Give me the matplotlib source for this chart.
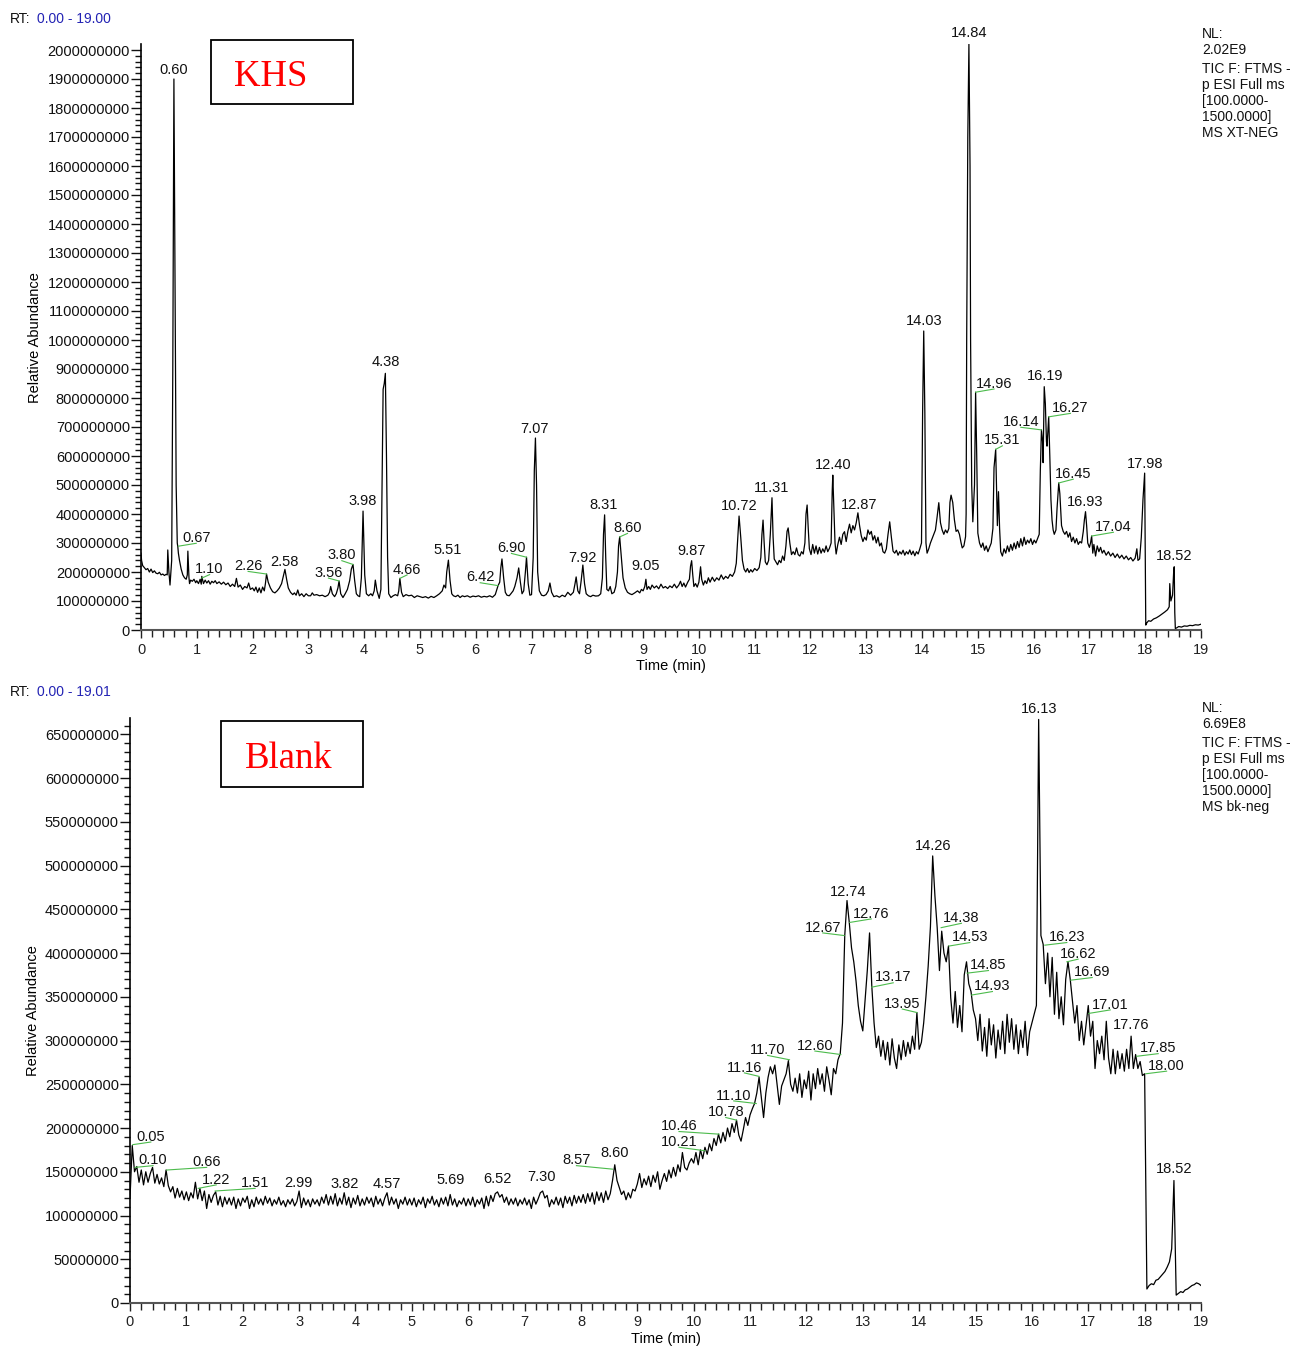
import numpy as np
import matplotlib
matplotlib.use("Agg")
import matplotlib.pyplot as plt
from matplotlib.patches import Rectangle
from matplotlib.ticker import FixedLocator, FuncFormatter

W, H = 1293, 1347
plt.rcParams['font.family'] = ['Liberation Sans', 'DejaVu Sans']

# ---------------- KHS trace: (time [min], intensity [x1e6]) ----------------
KHS_0_1 = [(0.00,265),(0.01,240),(0.03,222),(0.06,215),(0.09,208),(0.12,212),(0.15,200),(0.18,210),
           (0.21,198),(0.24,204),(0.27,196),(0.30,194),(0.33,199),(0.36,190),(0.39,193),(0.42,188),
           (0.45,192),(0.47,190),(0.48,276),(0.50,200),(0.52,155),(0.55,240),(0.57,900),(0.59,1900),
           (0.61,1200),(0.63,500),(0.65,300),(0.66,287),(0.67,265),(0.69,240),(0.72,210),(0.75,190),
           (0.78,180),(0.81,175),(0.83,190),(0.84,272),(0.86,180),(0.87,160),(0.89,172),(0.92,168),
           (0.95,175),(0.98,163)]
KHS_1_3 = [(1.00,170),(1.03,160),(1.06,175),(1.08,158),(1.09,185),(1.12,160),(1.15,172),(1.18,162),
           (1.21,170),(1.24,158),(1.27,168),(1.30,163),(1.33,170),(1.36,160),(1.40,166),(1.44,158),
           (1.48,165),(1.52,156),(1.56,162),(1.60,150),(1.64,158),(1.68,150),(1.71,178),(1.74,148),
           (1.78,155),(1.82,140),(1.86,150),(1.90,145),(1.93,162),(1.96,140),(2.00,145),(2.03,135),
           (2.06,148),(2.09,130),(2.12,145),(2.15,128),(2.18,148),(2.21,135),(2.23,160),(2.25,193),
           (2.28,165),(2.32,145),(2.36,132),(2.40,128),(2.44,135),(2.48,145),(2.52,160),(2.55,185),
           (2.58,209),(2.61,175),(2.64,145),(2.68,130),(2.72,122),(2.75,128),(2.78,120),(2.81,138),
           (2.84,118),(2.88,125),(2.92,115),(2.96,125),(3.00,118)]
KHS_3_5 = [(3.04,118),(3.07,128),(3.10,120),(3.15,122),(3.20,118),(3.25,120),(3.30,115),(3.35,120),
           (3.38,130),(3.40,150),(3.43,125),(3.47,115),(3.50,125),(3.53,145),(3.55,169),(3.58,125),
           (3.62,112),(3.66,125),(3.70,140),(3.74,170),(3.77,210),(3.80,226),(3.83,170),(3.86,125),
           (3.89,118),(3.92,115),(3.95,180),(3.98,410),(4.01,190),(4.04,125),(4.08,118),(4.12,125),
           (4.15,118),(4.18,135),(4.20,172),(4.23,135),(4.27,109),(4.30,140),(4.32,500),(4.34,830),
           (4.36,850),(4.38,885),(4.40,600),(4.42,250),(4.44,125),(4.48,112),(4.52,118),(4.56,122),
           (4.60,118),(4.62,135),(4.64,178),(4.67,130),(4.70,115),(4.75,122),(4.80,118),(4.85,120),
           (4.90,112),(4.95,118),(5.00,115),(5.05,112),(5.10,115),(5.15,110),(5.20,116),(5.25,112),
           (5.30,118),(5.35,125),(5.40,135),(5.43,155),(5.46,145),(5.48,200),(5.51,241),(5.54,170),
           (5.57,125),(5.60,118)]
KHS_5_9 = [(5.64,115),(5.68,120),(5.72,112),(5.76,118),(5.80,115),(5.85,118),(5.90,113),(5.95,117),
           (6.00,115),(6.05,118),(6.10,113),(6.15,116),(6.20,114),(6.25,118),(6.30,113),(6.35,122),
           (6.38,140),(6.40,153),(6.43,165),(6.45,215),(6.47,245),(6.50,180),(6.53,130),(6.56,120),
           (6.60,118),(6.63,125),(6.67,135),(6.70,150),(6.74,180),(6.77,214),(6.80,165),(6.83,125),
           (6.86,135),(6.89,200),(6.91,251),(6.94,160),(6.97,120),(7.00,122),(7.03,250),(7.05,550),
           (7.07,662),(7.09,500),(7.11,200),(7.14,135),(7.18,120),(7.22,118),(7.26,122),(7.30,135),
           (7.33,162),(7.36,130),(7.40,115),(7.45,118),(7.50,113),(7.55,120),(7.60,115),(7.65,130),
           (7.70,120),(7.75,130),(7.78,160),(7.80,183),(7.83,135),(7.86,125),(7.89,170),(7.92,224),
           (7.95,160),(7.98,125),(8.02,118),(8.06,115),(8.10,120),(8.15,117),(8.20,118),(8.24,125),
           (8.27,180),(8.29,330),(8.31,397),(8.33,250),(8.35,140),(8.38,135),(8.41,150),(8.44,125),
           (8.48,130),(8.51,150),(8.54,200),(8.56,290),(8.58,321),(8.61,250),(8.64,180),(8.68,145),
           (8.72,130),(8.76,125),(8.80,122),(8.85,128),(8.90,135),(8.94,128),(8.97,140),(9.00,135)]
KHS_9_11 = [(9.03,150),(9.05,175),(9.07,140),(9.10,150),(9.13,140),(9.16,155),(9.20,145),(9.24,152),
            (9.28,142),(9.32,158),(9.36,145),(9.40,150),(9.44,143),(9.48,152),(9.52,146),(9.56,158),
            (9.60,145),(9.64,155),(9.67,168),(9.70,150),(9.73,162),(9.76,148),(9.80,165),(9.83,175),
            (9.85,220),(9.87,239),(9.89,190),(9.91,150),(9.94,160),(9.97,148),(10.00,165),(10.03,218),
            (10.05,175),(10.08,155),(10.11,170),(10.14,160),(10.17,180),(10.20,165),(10.24,182),
            (10.28,168),(10.32,180),(10.36,172),(10.40,190),(10.44,175),(10.48,185),(10.52,178),
            (10.56,192),(10.60,185),(10.64,200),(10.67,230),(10.70,330),(10.72,393),(10.75,320),
            (10.78,240),(10.81,210),(10.84,200),(10.87,212),(10.90,198),(10.93,208),(10.96,200),
            (11.00,212)]
KHS_11_13 = [(11.04,205),(11.08,215),(11.11,250),(11.13,330),(11.15,379),(11.17,300),(11.19,235),
             (11.22,225),(11.25,240),(11.28,330),(11.31,456),(11.33,320),(11.35,245),(11.38,235),
             (11.41,225),(11.44,240),(11.47,232),(11.50,255),(11.53,240),(11.56,290),(11.58,340),
             (11.60,352),(11.63,300),(11.66,260),(11.69,270),(11.72,260),(11.75,283),(11.78,260),
             (11.81,255),(11.84,270),(11.87,262),(11.90,300),(11.92,400),(11.94,431),(11.96,350),
             (11.98,280),(12.01,260),(12.04,295),(12.07,265),(12.10,290),(12.13,262),(12.16,285),
             (12.19,265),(12.22,280),(12.25,268),(12.28,290),(12.31,270),(12.34,282),(12.37,300),
             (12.39,480),(12.40,534),(12.42,420),(12.44,300),(12.46,262),(12.49,295),(12.52,320),
             (12.55,295),(12.58,330),(12.61,339),(12.64,305),(12.67,340),(12.70,365),(12.73,335),
             (12.76,360),(12.79,345),(12.82,370),(12.85,404),(12.88,360),(12.91,325),(12.94,305),
             (12.97,320),(13.00,310)]
KHS_13_15 = [(13.03,345),(13.06,330),(13.09,340),(13.12,310),(13.15,325),(13.18,300),(13.21,320),
             (13.24,290),(13.27,300),(13.30,270),(13.33,265),(13.36,280),(13.39,330),(13.42,373),
             (13.45,320),(13.48,272),(13.51,265),(13.54,275),(13.57,258),(13.60,270),(13.63,262),
             (13.66,275),(13.69,258),(13.72,270),(13.75,262),(13.78,276),(13.81,260),(13.84,272),
             (13.87,256),(13.90,270),(13.93,262),(13.96,280),(13.99,300),(14.01,750),(14.03,1031),
             (14.05,750),(14.07,300),(14.09,265),(14.12,280),(14.15,300),(14.18,315),(14.21,330),
             (14.24,345),(14.27,390),(14.30,439),(14.33,370),(14.36,345),(14.39,330),(14.42,345),
             (14.45,335),(14.48,350),(14.50,440),(14.52,465),(14.55,440),(14.58,380),(14.61,340),
             (14.64,345),(14.67,330),(14.70,300),(14.72,283),(14.75,290),(14.78,322),(14.79,400),
             (14.80,1000),(14.82,1700),(14.84,2020),(14.86,1600),(14.87,1000),(14.89,500),(14.91,373)]
KHS_15_18 = [(14.94,500),(14.96,820),(14.98,600),(15.00,334),(15.03,300),(15.06,285),(15.09,300),
             (15.12,275),(15.15,290),(15.18,270),(15.21,285),(15.24,300),(15.27,350),(15.29,560),
             (15.32,623),(15.34,450),(15.35,360),(15.37,477),(15.39,350),(15.41,270),(15.44,255),
             (15.47,280),(15.50,265),(15.53,290),(15.56,270),(15.59,295),(15.62,275),(15.65,300),
             (15.68,280),(15.71,305),(15.74,285),(15.77,315),(15.80,290),(15.83,320),(15.86,295),
             (15.89,310),(15.92,300),(15.95,315),(15.98,295),(16.01,310),(16.04,300),(16.07,315),
             (16.10,330),(16.12,550),(16.14,690),(16.16,650),(16.17,577),(16.19,839),(16.21,780),
             (16.23,650),(16.24,634),(16.27,735),(16.29,600),(16.31,450),(16.33,379),(16.35,345),
             (16.37,330),(16.40,345),(16.42,420),(16.45,507),(16.47,470),(16.50,360),(16.53,340),
             (16.56,330),(16.59,340),(16.62,320),(16.65,335),(16.68,305),(16.71,320),(16.74,300),
             (16.77,315),(16.80,295),(16.83,305),(16.86,300),(16.89,340),(16.91,380),(16.93,408),
             (16.95,360),(16.97,300),(17.00,285),(17.02,300),(17.04,324),(17.06,265),(17.08,295),
             (17.11,255),(17.14,290),(17.17,270),(17.20,285),(17.23,265),(17.26,275),(17.30,258),
             (17.34,270),(17.38,255),(17.42,265),(17.46,250),(17.50,262),(17.54,248),(17.58,258),
             (17.62,245),(17.66,255),(17.70,242),(17.74,250),(17.78,238),(17.82,248),(17.85,280),
             (17.87,240),(17.90,245),(17.93,320),(17.96,450),(17.99,541),(18.00,300),(18.01,17)]
KHS_18_19 = [(18.03,25),(18.06,32),(18.10,30),(18.15,38),(18.20,42),(18.25,48),(18.30,55),(18.35,62),
             (18.40,70),(18.43,80),(18.44,160),(18.46,100),(18.49,120),(18.51,200),(18.52,218),
             (18.53,60),(18.54,5),(18.57,8),(18.60,12),(18.65,10),(18.70,14),(18.75,13),(18.80,16),
             (18.85,15),(18.90,18),(18.95,17),(19.00,20)]

# ---------------- Blank trace: scans every 0.04 min, intensity [x1e6] ----------------
BLANK_STEP = 0.04
BLANK_MIN_0_4 = [
    120,180,150,156,138,152,135,150,138,148,155,137,147,136,143,133,152,134,127,133,120,131,121,128,118,
    127,117,126,120,138,119,131,117,128,108,124,115,123,127,112,122,110,121,113,120,112,121,108,119,111,
    120,115,122,108,118,110,121,113,119,112,122,114,120,111,118,113,121,112,117,110,118,113,119,111,116,
    128,109,120,112,118,110,119,113,118,111,121,114,124,112,122,113,125,111,120,113,126,112,121,109,120,
    113,123,111,119,112,121,114,120,110,122,113,119,111,120,126,112,121,113,119,108,118,113,121,112,119]
BLANK_MIN_5_9 = [
    112,120,110,118,113,121,109,119,114,122,112,118,110,120,113,121,111,124,112,119,110,117,113,120,111,
    119,112,121,110,118,113,120,108,122,111,123,116,125,127,121,124,115,121,112,119,113,120,111,118,113,
    120,112,118,108,121,113,119,126,128,120,123,110,118,113,121,112,120,109,122,114,121,111,123,114,122,
    115,124,114,125,116,126,113,127,117,126,115,128,118,125,140,158,140,132,124,128,118,126,120,130,128,
    136,148,132,142,135,145,133,146,138,150,130,140,148,139,152,143,155,145,158,150,172,155,152,160,165]
BLANK_MIN_10_14 = [
    160,172,158,175,165,178,170,182,174,188,180,193,183,195,185,200,190,205,195,209,192,185,198,212,203,
    215,222,228,240,258,235,212,240,258,270,262,272,250,227,248,255,262,277,250,242,257,240,262,235,255,
    245,265,232,262,245,268,250,262,242,270,255,238,268,262,278,285,320,420,460,435,406,390,368,340,322,
    311,345,380,423,362,320,292,305,282,300,278,298,272,302,280,268,295,278,300,282,298,285,305,290,332,
    290,298,320,350,385,430,511,465,429,380,425,400,390,408,349,320,356,315,340,310,375,390,365,356,335]
BLANK_MIN_15_19 = [
    325,300,330,288,315,282,325,295,318,280,312,290,322,285,330,298,325,290,318,285,312,292,322,283,310,
    320,330,340,667,420,410,365,400,350,395,330,378,325,350,318,370,390,370,345,320,340,300,322,295,318,
    340,305,322,268,300,285,305,278,322,280,262,290,262,288,268,285,265,290,268,305,268,284,268,276,260,
    262,16,20,22,21,26,27,30,33,36,41,47,62,140,9,11,13,12,15,16,18,20,21,23,22,
    20]

# ---------------- Peak annotations: (text, peak time, peak intensity x1e6) ----------------
KHS_PEAKS = [("0.60",0.59,1900),("0.67",0.67,289),("1.10",1.09,179),("2.26",2.25,193),("2.58",2.58,209),
             ("3.56",3.55,169),("3.80",3.80,226),("3.98",3.98,410),("4.38",4.38,885),("4.66",4.64,178),
             ("5.51",5.51,241),("6.42",6.40,153),("6.90",6.91,251),("7.07",7.07,662),("7.92",7.92,224),
             ("8.31",8.31,397),("8.60",8.58,321),("9.05",9.05,175),("9.87",9.87,239),("10.72",10.72,393),
             ("11.31",11.31,456),("12.40",12.40,534),("12.87",12.85,404),("14.03",14.03,1031),
             ("14.84",14.84,2020),("14.96",14.96,820),("15.31",15.32,623),("16.14",16.14,690),
             ("16.19",16.19,839),("16.27",16.27,735),("16.45",16.45,507),("16.93",16.93,408),
             ("17.04",17.04,324),("17.98",17.99,541),("18.52",18.52,218)]
BLANK_PEAKS = [("0.05",0.05,181),("0.10",0.09,155),("0.66",0.65,152),("1.22",1.21,131),("1.51",1.51,128),
               ("2.99",2.99,128),("3.82",3.81,126),("4.57",4.56,126),("5.69",5.69,124),("6.52",6.52,127),
               ("7.30",7.30,128),("8.57",8.56,153),("8.60",8.60,158),("10.21",10.20,174),("10.46",10.45,193),
               ("10.78",10.76,209),("11.10",11.11,228),("11.16",11.16,259),("11.70",11.70,278),
               ("12.60",12.61,284),("12.67",12.67,420),("12.74",12.74,460),("12.76",12.77,435),
               ("13.17",13.16,361),("13.95",13.96,332),("14.26",14.26,511),("14.38",14.39,429),
               ("14.53",14.53,408),("14.85",14.85,377),("14.93",14.93,352),("16.13",16.13,667),
               ("16.23",16.23,409),("16.62",16.62,390),("16.69",16.69,369),("17.01",17.01,331),
               ("17.76",17.76,305),("17.85",17.86,282),("18.00",18.02,262),("18.52",18.52,140)]

# label placement (layout): (label centre time, label baseline intensity x1e6, leader line?)
KHS_LABEL_POS = [(0.59,1914,False),(0.99,299,True),(1.23,191,True),(1.92,202,True),(2.57,216,False),
                 (3.36,179,True),(3.60,239,True),(3.97,425,False),(4.39,906,False),(4.77,190,True),
                 (5.50,259,False),(6.08,163,True),(6.64,264,True),(7.06,675,False),(7.91,230,False),
                 (8.30,411,False),(8.72,333,True),(9.04,201,False),(9.87,253,False),(10.72,408,False),
                 (11.30,471,False),(12.40,549,False),(12.87,414,False),(14.03,1046,False),
                 (14.84,2040,False),(15.29,831,True),(15.44,635,True),(15.77,699,True),
                 (16.20,856,False),(16.66,747,True),(16.71,520,True),(16.93,423,False),
                 (17.43,337,True),(17.99,554,False),(18.51,235,False)]
BLANK_LABEL_POS = [(0.37,184,True),(0.41,157,True),(1.36,155,True),(1.53,135,True),(2.22,131,True),
                   (2.99,131,False),(3.81,130,False),(4.56,130,False),(5.69,134,False),(6.51,136,False),
                   (7.30,138,False),(7.92,157,True),(8.59,165,False),(9.74,178,True),(9.74,196,True),
                   (10.57,212,True),(10.71,231,True),(10.90,263,True),(11.31,283,True),(12.15,288,True),
                   (12.29,423,True),(12.74,464,False),(13.15,439,True),(13.54,366,True),(13.70,336,True),
                   (14.25,516,False),(14.75,434,True),(14.90,412,True),(15.23,380,True),(15.30,356,True),
                   (16.13,673,False),(16.62,412,True),(16.82,393,True),(17.07,372,True),(17.39,335,True),
                   (17.76,312,False),(18.24,285,True),(18.39,265,True),(18.52,147,False)]

khs = KHS_0_1 + KHS_1_3 + KHS_3_5 + KHS_5_9 + KHS_9_11 + KHS_11_13 + KHS_13_15 + KHS_15_18 + KHS_18_19
khs_t = np.array([p[0] for p in khs])
khs_i = np.array([p[1] for p in khs]) * 1e6
blank_i = np.array(BLANK_MIN_0_4 + BLANK_MIN_5_9 + BLANK_MIN_10_14 + BLANK_MIN_15_19, dtype=float) * 1e6
blank_t = np.arange(len(blank_i)) * BLANK_STEP

fig = plt.figure(figsize=(W / 100, H / 100), dpi=100)


def fpx(x, y):
    return x / W, 1 - y / H


ax1 = fig.add_axes([141 / W, 1 - 630 / H, 1060 / W, (630 - 44.2) / H])
ax2 = fig.add_axes([130 / W, 1 - 1303 / H, 1071 / W, (1303 - 717.7) / H])


def style(ax, ymax, major, nmajor, minor, nminor):
    ax.set_xlim(0, 19)
    ax.set_ylim(0, ymax)
    ax.spines['top'].set_visible(False)
    ax.spines['right'].set_visible(False)
    ax.spines['left'].set_linewidth(1.2)
    ax.spines['left'].set_color('black')
    ax.spines['bottom'].set_linewidth(1.5)
    ax.spines['bottom'].set_color('#555555')
    ax.xaxis.set_major_locator(FixedLocator(list(range(20))))
    ax.xaxis.set_minor_locator(FixedLocator([k * 0.2 for k in range(96) if k % 5]))
    ax.yaxis.set_major_locator(FixedLocator([k * major for k in range(nmajor + 1)]))
    ax.yaxis.set_minor_locator(FixedLocator([k * minor for k in range(nminor + 1) if k % 5]))
    ax.yaxis.set_major_formatter(FuncFormatter(lambda v, p: f"{int(round(v))}"))
    ax.tick_params(axis='y', which='major', length=7, width=1.0, pad=1, labelsize=10.5, colors='#111111')
    ax.tick_params(axis='y', which='minor', length=4, width=1.0, color='#111111')
    ax.tick_params(axis='x', which='major', length=6, width=1.0, pad=3, labelsize=10.5, colors='#222222')
    ax.tick_params(axis='x', which='minor', length=5, width=1.0, color='#222222')
    ax.set_ylabel('Relative Abundance', fontsize=10.5)
    ax.text(0.5, -0.0615, 'Time (min)', transform=ax.transAxes, ha='center', va='center', fontsize=10.5)


style(ax1, 2.02e9, 1e8, 20, 2e7, 100)
style(ax2, 6.69e8, 5e7, 13, 1e7, 66)
ax1.yaxis.set_label_coords(-99 / 1060, 0.5)
ax2.yaxis.set_label_coords(-90 / 1071, 0.5)

ax1.plot(khs_t, khs_i, color='black', lw=0.9)
ax2.plot(blank_t, blank_i, color='black', lw=0.9)


def annotate(ax, peaks, pos):
    for (txt, pt, pi), (lt, li, lead) in zip(peaks, pos):
        if lead:
            ax.plot([pt, lt], [pi * 1e6, li * 1e6], color='#4cbb4c', lw=0.8, clip_on=False)
        ax.annotate(txt, xy=(lt, li * 1e6), xytext=(0, 1), textcoords='offset points',
                    ha='center', va='baseline', fontsize=10.5, color='#111111',
                    annotation_clip=False)


annotate(ax1, KHS_PEAKS, KHS_LABEL_POS)
annotate(ax2, BLANK_PEAKS, BLANK_LABEL_POS)

# RT headers
for y, rng in ((23, '0.00 - 19.00'), (696, '0.00 - 19.01')):
    fig.text(*fpx(10, y), 'RT:', fontsize=10, va='baseline', ha='left', color='#111111')
    fig.text(*fpx(37, y), rng, fontsize=10, va='baseline', ha='left', color='#2323b4')

# NL info blocks
nl_lines_top = ['NL:', '2.02E9', 'TIC F: FTMS -', 'p ESI Full ms', '[100.0000-', '1500.0000]', 'MS XT-NEG']
nl_lines_bot = ['NL:', '6.69E8', 'TIC F: FTMS -', 'p ESI Full ms', '[100.0000-', '1500.0000]', 'MS bk-neg']
for base, lines in ((38.3, nl_lines_top), (711.7, nl_lines_bot)):
    offs = [0, 16, 35, 51, 67, 83, 99]
    for off, s in zip(offs, lines):
        fig.text(*fpx(1202, base + off), s, fontsize=10, va='baseline', ha='left', color='#111111')

# Sample boxes
for (x0, y0, x1, y1), label, tx, ty in (((211, 40, 353, 104), 'KHS', 271, 86),
                                        ((221, 721, 363, 786.5), 'Blank', 289, 768.3)):
    fx0, fy1 = fpx(x0, y1)
    fig.add_artist(Rectangle((fx0, fy1), (x1 - x0) / W, (y1 - y0) / H, transform=fig.transFigure,
                             fill=False, edgecolor='black', lw=1.3))
    fig.text(*fpx(tx, ty), label, fontsize=26.5, family=['Liberation Serif', 'DejaVu Serif'],
             color='#ff0000', ha='center', va='baseline')

fig.savefig('out.png', dpi=100)
